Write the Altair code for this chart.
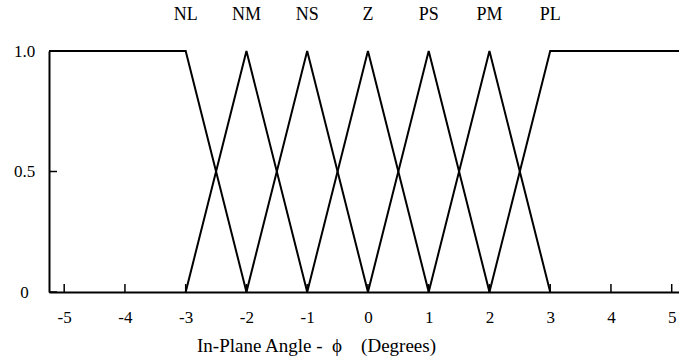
import altair as alt
import pandas as pd

# Fuzzy sets over the in-plane angle (degrees)
set_names = ["NL", "NM", "NS", "Z", "PS", "PM", "PL"]
set_peaks = [-3, -2, -1, 0, 1, 2, 3]
x_min, x_max = -5.25, 5.12

# Breakpoints (x, membership) of each set
set_x = {
    "NL": [x_min, -3, -2],
    "NM": [-3, -2, -1],
    "NS": [-2, -1, 0],
    "Z": [-1, 0, 1],
    "PS": [0, 1, 2],
    "PM": [1, 2, 3],
    "PL": [2, 3, x_max],
}
set_mu = {
    "NL": [1, 1, 0],
    "NM": [0, 1, 0],
    "NS": [0, 1, 0],
    "Z": [0, 1, 0],
    "PS": [0, 1, 0],
    "PM": [0, 1, 0],
    "PL": [0, 1, 1],
}

x_ticks = [-5, -4, -3, -2, -1, 0, 1, 2, 3, 4, 5]
y_ticks = [0, 0.5, 1.0]

W, H = 630, 241
FONT = "Liberation Serif"
FS = 17

rows = []
for name in set_names:
    for i, (xv, mv) in enumerate(zip(set_x[name], set_mu[name])):
        rows.append({"set": name, "order": i, "angle": xv, "mu": mv})
curves = pd.DataFrame(rows)

xscale = alt.Scale(domain=[x_min, x_max], nice=False, zero=False)
yscale = alt.Scale(domain=[0, 1], nice=False)

lines = alt.Chart(curves).mark_line(color="black", strokeWidth=2).encode(
    x=alt.X(
        "angle:Q",
        scale=xscale,
        axis=alt.Axis(
            values=x_ticks,
            labelExpr="'' + datum.value",
            ticks=False,
            grid=False,
            domainColor="black",
            domainWidth=2,
            labelFont=FONT,
            labelFontSize=FS,
            labelColor="black",
            labelPadding=17,
            labelBound=False,
            labelOverlap=False,
            title="In-Plane Angle -\u00a0\u00a0\u03d5\u00a0\u00a0\u00a0\u00a0(Degrees)",
            titleFont=FONT,
            titleFontSize=19,
            titleFontWeight="normal",
            titleColor="black",
            titleX=267,
            titleY=53,
            titleAlign="center",
            titleBaseline="middle",
        ),
    ),
    y=alt.Y(
        "mu:Q",
        scale=yscale,
        axis=alt.Axis(
            values=y_ticks,
            labelExpr="datum.value == 0 ? '0' : format(datum.value, '.1f')",
            ticks=False,
            grid=False,
            domainColor="black",
            domainWidth=2,
            labelFont=FONT,
            labelFontSize=FS,
            labelColor="black",
            labelAlign="center",
            labelPadding=25,
            title=None,
        ),
    ),
    detail="set:N",
    order="order:O",
)

# Inward tick marks
xt = alt.Chart(pd.DataFrame({"angle": x_ticks})).mark_rule(color="black", strokeWidth=1.5).encode(
    x=alt.X("angle:Q", scale=xscale),
    y=alt.value(H),
    y2=alt.value(H - 8),
)
yt = alt.Chart(pd.DataFrame({"mu": y_ticks})).mark_rule(color="black", strokeWidth=1.5).encode(
    y=alt.Y("mu:Q", scale=yscale),
    x=alt.value(0),
    x2=alt.value(8),
)

labels = alt.Chart(pd.DataFrame({"set": set_names, "peak": set_peaks})).mark_text(
    font=FONT, fontSize=18, color="black", baseline="middle", align="center"
).encode(
    x=alt.X("peak:Q", scale=xscale),
    y=alt.value(-36),
    text="set:N",
)

chart = (
    alt.layer(lines, xt, yt, labels)
    .properties(
        width=W,
        height=H,
        autosize=alt.AutoSizeParams(type="none"),
        padding={"left": 49, "top": 51, "right": 0, "bottom": 68},
        background="white",
    )
    .configure_view(stroke=None)
)

chart.save("out.html", embed_options={"renderer": "svg", "actions": False})
